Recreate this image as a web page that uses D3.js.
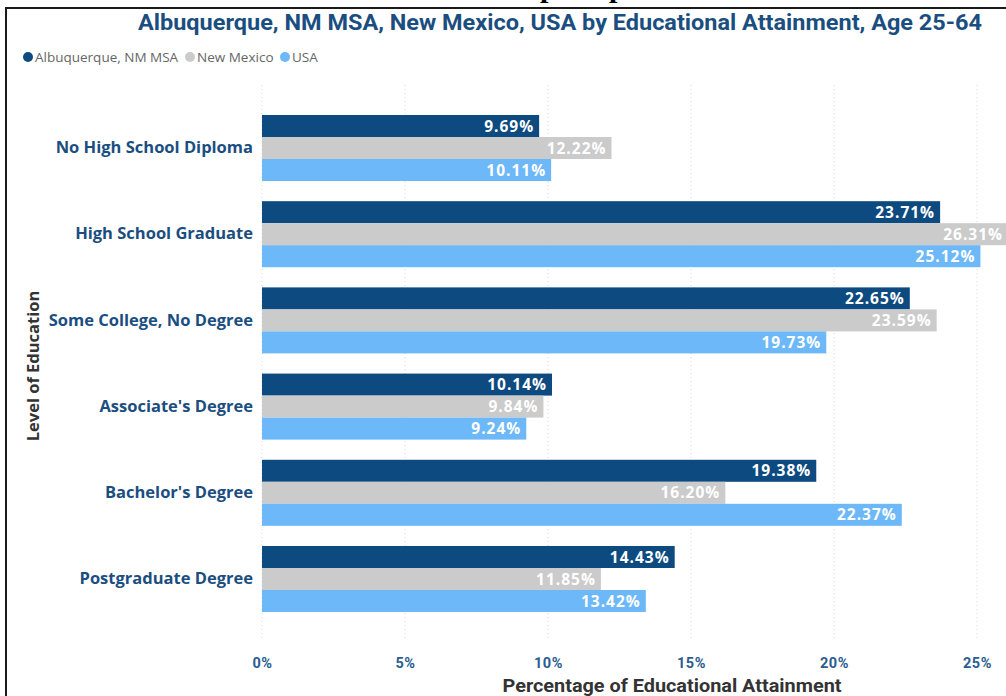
<!DOCTYPE html>
<html><head><meta charset="utf-8">
<script src="https://cdn.jsdelivr.net/npm/d3@7/dist/d3.min.js"></script>
<style>
html,body{margin:0;padding:0;background:#fff;overflow:hidden;}
svg{display:block;}
</style></head>
<body>
<script>
const categories = ["No High School Diploma","High School Graduate","Some College, No Degree","Associate's Degree","Bachelor's Degree","Postgraduate Degree"];
const seriesNames = ["Albuquerque, NM MSA","New Mexico","USA"];
const albuquerque = [9.69, 23.71, 22.65, 10.14, 19.38, 14.43];
const newMexico = [12.22, 26.31, 23.59, 9.84, 16.20, 11.85];
const usa = [10.11, 25.12, 19.73, 9.24, 22.37, 13.42];
const xTicks = [0, 5, 10, 15, 20, 25];
const colors = ["#0d4a7f", "#cbcbcb", "#6cb8f9"];

const W = 1006, H = 696;
const svg = d3.select("body").append("svg").attr("width", W).attr("height", H);

// frame
svg.append("line").attr("x1",5).attr("x2",W).attr("y1",8).attr("y2",8).attr("stroke","#1a1a1a").attr("stroke-width",2);
svg.append("line").attr("x1",6).attr("x2",6).attr("y1",7).attr("y2",H).attr("stroke","#1a1a1a").attr("stroke-width",2);
// cropped text fragment above frame
svg.append("text").attr("x",540).attr("y",-3).attr("font-family","Liberation Serif").attr("font-weight","bold")
  .attr("font-size",30).attr("fill","#000").text("p");
svg.append("text").attr("x",609).attr("y",-3).attr("font-family","Liberation Serif").attr("font-weight","bold")
  .attr("font-size",30).attr("fill","#000").text("p");

// title
svg.append("text").attr("x",138).attr("y",30).attr("font-family","Roboto").attr("font-weight","bold")
  .attr("font-size",21.5).attr("fill","#1b4e80").attr("textLength",844).attr("lengthAdjust","spacingAndGlyphs")
  .text("Albuquerque, NM MSA, New Mexico, USA by Educational Attainment, Age 25-64");

// legend
const legendX = [28, 190, 285];
seriesNames.forEach((s,i)=>{
  svg.append("circle").attr("cx",legendX[i]).attr("cy",57).attr("r",5).attr("fill",colors[i]);
  svg.append("text").attr("x",legendX[i]+7).attr("y",62).attr("font-family","Open Sans")
    .attr("font-size",13.5).attr("fill","#666").text(s);
});

const x = d3.scaleLinear().domain([0,25]).range([262,977]);
const y = d3.scaleBand().domain(categories).range([104.9,622.1]).paddingInner(0.234).paddingOuter(0.117);
const ySub = d3.scaleBand().domain(seriesNames).range([0,y.bandwidth()]).padding(0);

// gridlines
svg.append("g").selectAll("line").data(xTicks).join("line")
  .attr("x1",d=>x(d)).attr("x2",d=>x(d)).attr("y1",85).attr("y2",640)
  .attr("stroke","#d6d6d6").attr("stroke-width",1).attr("stroke-dasharray","1,3");

// x axis
const xAxis = svg.append("g").attr("transform","translate(0,675)")
  .call(d3.axisBottom(x).tickValues(xTicks).tickFormat(d=>d+"%").tickSize(0));
xAxis.select(".domain").remove();
xAxis.selectAll("text").attr("font-family","Roboto").attr("font-weight","bold").attr("font-size",14.5)
  .attr("letter-spacing",0.6).attr("fill","#2a5d90").attr("dy","-0.7em");

// y axis
const yAxis = svg.append("g").attr("transform","translate(253,0)")
  .call(d3.axisLeft(y).tickSize(0).tickPadding(0));
yAxis.select(".domain").remove();
yAxis.selectAll("text").attr("font-family","Open Sans").attr("font-weight","bold").attr("font-size",16.5)
  .attr("fill","#1b4e80");

// bars
const series = [albuquerque, newMexico, usa];
const data = [];
categories.forEach((c,ci)=>{
  seriesNames.forEach((s,si)=>{
    data.push({c, s, si, v: series[si][ci]});
  });
});
const g = svg.append("g");
g.selectAll("rect").data(data).join("rect")
  .attr("x",x(0)).attr("y",d=>y(d.c)+ySub(d.s)).attr("width",d=>x(d.v)-x(0))
  .attr("height",ySub.bandwidth()).attr("fill",d=>colors[d.si]);
g.selectAll("text").data(data).join("text")
  .attr("x",d=>Math.min(x(d.v)-5, 1003)).attr("y",d=>y(d.c)+ySub(d.s)+ySub.bandwidth()/2)
  .attr("dy","0.36em").attr("text-anchor","end").attr("font-family","Open Sans").attr("font-weight","bold")
  .attr("font-size",15.5).attr("letter-spacing",1).attr("fill","#fff").text(d=>d.v.toFixed(2)+"%");

// axis titles
svg.append("text").attr("x",672).attr("y",692).attr("text-anchor","middle").attr("font-family","Roboto")
  .attr("font-weight","bold").attr("font-size",17.5).attr("fill","#333")
  .attr("textLength",339).attr("lengthAdjust","spacingAndGlyphs").text("Percentage of Educational Attainment");
svg.append("text").attr("transform","translate(39,366) rotate(-90)").attr("text-anchor","middle")
  .attr("font-family","Open Sans").attr("font-weight","bold").attr("font-size",16.5).attr("fill","#333")
  .text("Level of Education");
</script>
</body></html>
